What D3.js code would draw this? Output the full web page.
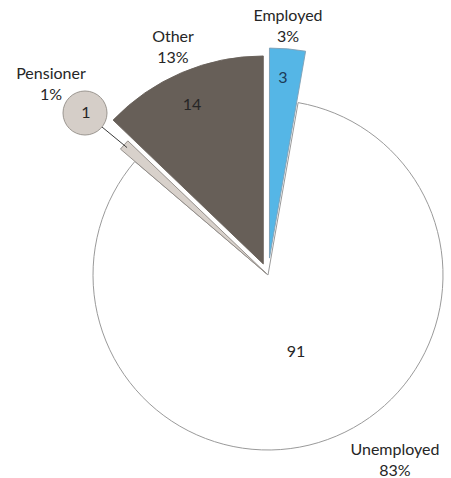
<!DOCTYPE html>
<html>
<head>
<meta charset="utf-8">
<script src="https://cdn.jsdelivr.net/npm/d3@7/dist/d3.min.js"></script>
<style>
  html, body { margin: 0; padding: 0; background: #ffffff; }
  svg { display: block; }
  text { font-family: Lato, "Open Sans", sans-serif; fill: #262626; }
</style>
</head>
<body>
<svg id="chart" width="451" height="478"></svg>
<script>
// Employment status breakdown
const categories = ["Employed", "Unemployed", "Pensioner", "Other"];
const values = [3, 91, 1, 14];

// Appearance per category
const fills = {
  Employed: "#55b6e6",
  Unemployed: "#ffffff",
  Pensioner: "#d8d1cb",
  Other: "#675f58"
};
const strokes = {
  Employed: "#7f9fb4",
  Unemployed: "#9a9a9a",
  Pensioner: "#8c8782",
  Other: "#675f58"
};

// Slice geometry: outer radius and how far each slice is pulled out
const layout = {
  cx: 268, cy: 275,
  radius: { Employed: 210, Unemployed: 175, Pensioner: 192, Other: 208 },
  explode: { Employed: 17, Unemployed: 0, Pensioner: 2, Other: 12 },
  // category label anchors (name + percentage)
  catLabel: {
    Employed: [288, 21],
    Unemployed: [395, 455],
    Pensioner: [51, 79],
    Other: [173, 42]
  },
  // value label anchors
  valLabel: {
    Employed: [283, 83],
    Unemployed: [296, 357],
    Pensioner: [86, 118],
    Other: [192, 110]
  },
  callout: { cx: 85, cy: 113, r: 22 }
};

const total = d3.sum(values);
const pct = v => Math.round(v / total * 100) + "%";

const svg = d3.select("#chart");
const g = svg.append("g").attr("transform", `translate(${layout.cx},${layout.cy})`);

const pie = d3.pie().sort(null).startAngle(0).endAngle(2 * Math.PI);
const arcs = pie(values).map((d, i) => Object.assign(d, { name: categories[i] }));

const offset = d => {
  const mid = (d.startAngle + d.endAngle) / 2;
  const k = layout.explode[d.name];
  return [Math.sin(mid) * k, -Math.cos(mid) * k];
};

const arcFor = d => d3.arc().innerRadius(0).outerRadius(layout.radius[d.name])(d);

// draw largest slice first so exploded slices sit on top
const drawOrder = ["Unemployed", "Pensioner", "Other", "Employed"];
drawOrder.forEach(name => {
  const d = arcs.find(a => a.name === name);
  const [ox, oy] = offset(d);
  g.append("path")
    .attr("d", arcFor(d))
    .attr("transform", `translate(${ox},${oy})`)
    .attr("fill", fills[name])
    .attr("stroke", strokes[name])
    .attr("stroke-width", name === "Unemployed" ? 1 : 0.9)
    .attr("stroke-linejoin", "miter");
});

// callout bubble for the tiny Pensioner slice, with a leader line to the slice end
const pens = arcs.find(a => a.name === "Pensioner");
const pMid = (pens.startAngle + pens.endAngle) / 2;
const [pox, poy] = offset(pens);
const pr = layout.radius.Pensioner - 4;
const tip = [layout.cx + pox + Math.sin(pMid) * pr, layout.cy + poy - Math.cos(pMid) * pr];
const co = layout.callout;
const ang = Math.atan2(tip[1] - co.cy, tip[0] - co.cx);
svg.append("line")
  .attr("x1", co.cx + Math.cos(ang) * co.r)
  .attr("y1", co.cy + Math.sin(ang) * co.r)
  .attr("x2", tip[0])
  .attr("y2", tip[1])
  .attr("stroke", "#3a3a3a")
  .attr("stroke-width", 1);
svg.append("circle")
  .attr("cx", co.cx).attr("cy", co.cy).attr("r", co.r)
  .attr("fill", "#d5cec8")
  .attr("stroke", "#9b9690")
  .attr("stroke-width", 1);

// category labels
categories.forEach((name, i) => {
  const [x, y] = layout.catLabel[name];
  const t = svg.append("text")
    .attr("x", x).attr("y", y)
    .attr("text-anchor", "middle")
    .style("font-size", "16px");
  t.append("tspan").attr("x", x).text(name);
  t.append("tspan").attr("x", x).attr("dy", 21).text(pct(values[i]));
});

// value labels
categories.forEach((name, i) => {
  const [x, y] = layout.valLabel[name];
  svg.append("text")
    .attr("x", x).attr("y", y)
    .attr("text-anchor", "middle")
    .style("font-size", "16px")
    .style("fill", name === "Employed" ? "#1d3b57" : "#262626")
    .text(values[i]);
});
</script>
</body>
</html>
